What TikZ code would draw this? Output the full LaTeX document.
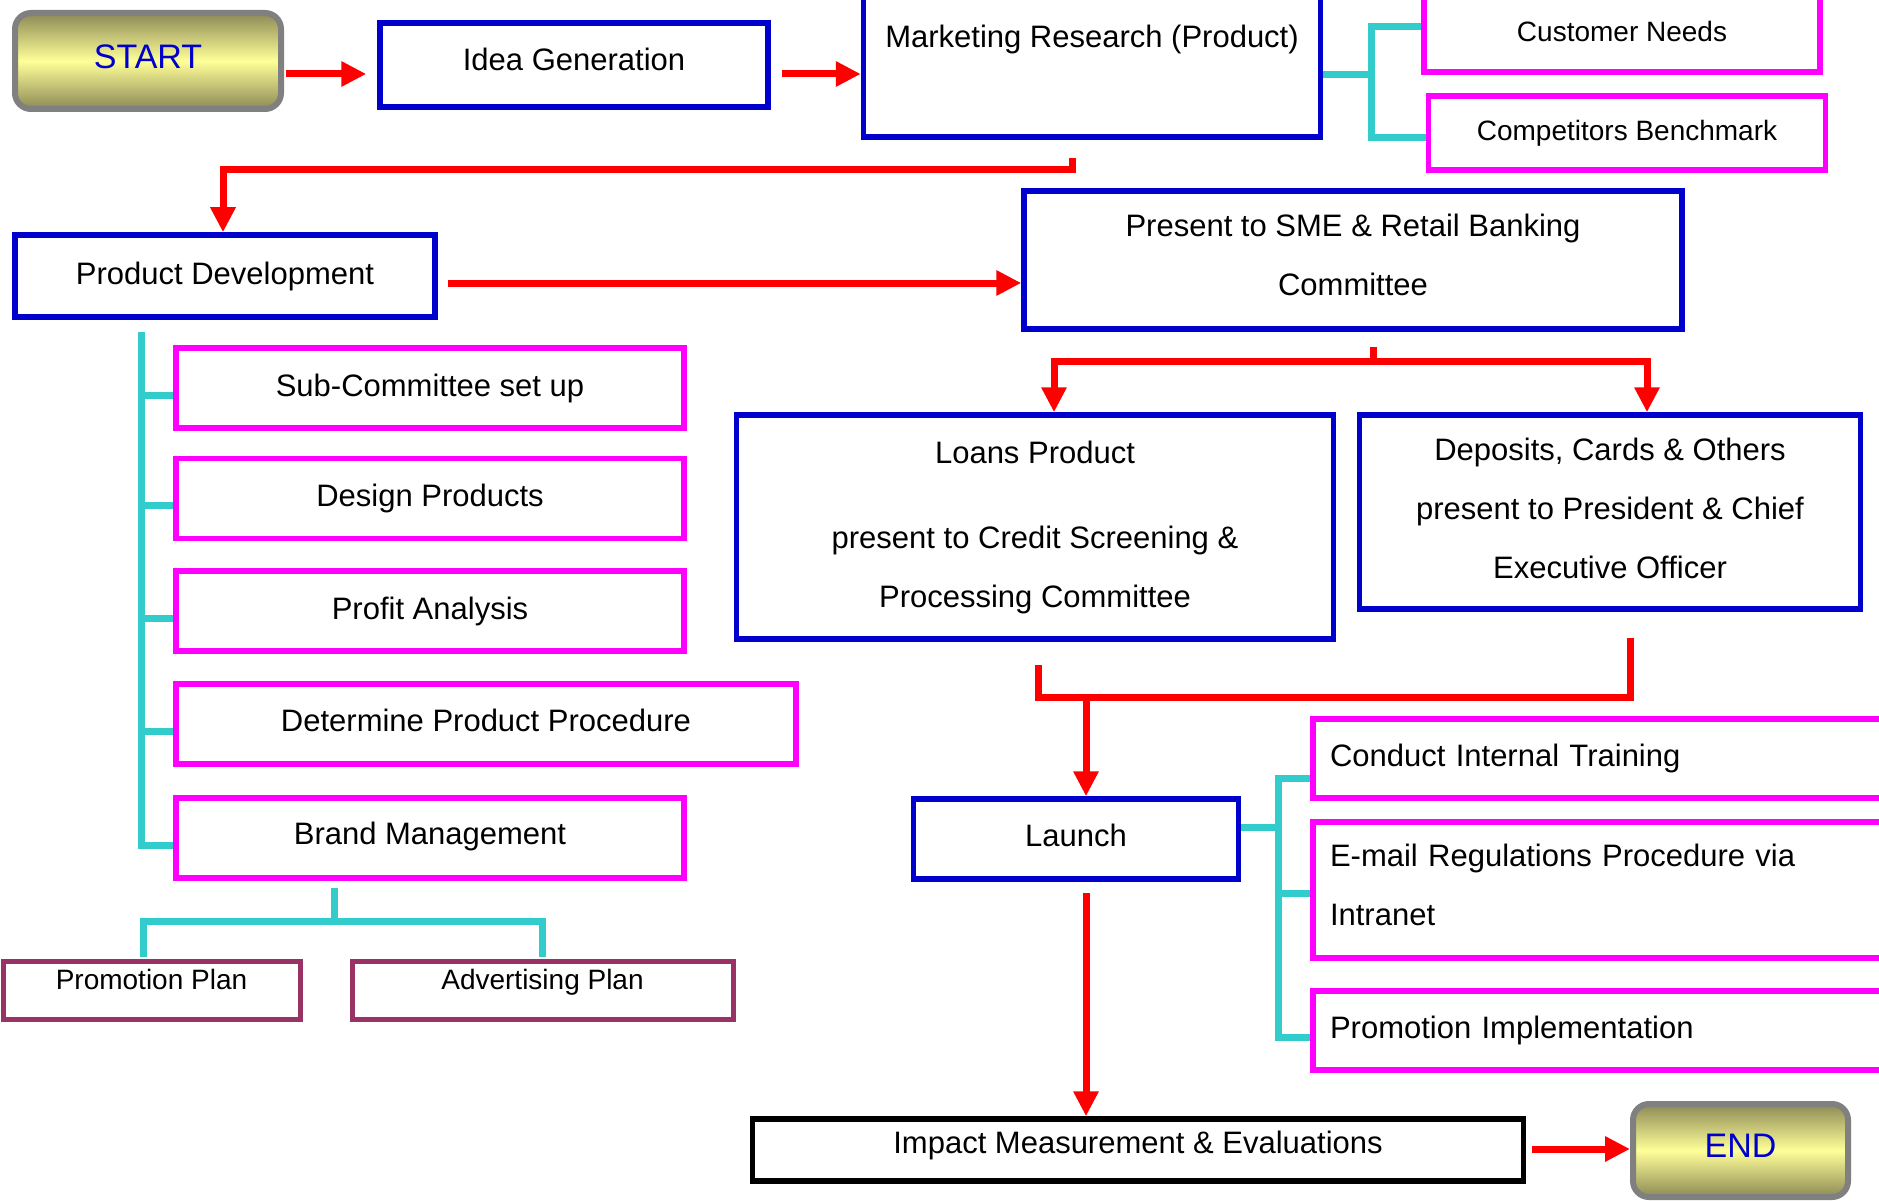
\documentclass[tikz,border=0pt]{standalone}
\usepackage{fontspec}
\setmainfont{Liberation Sans}
\usetikzlibrary{arrows.meta,calc}
\definecolor{bx}{HTML}{0000CC}
\definecolor{mg}{HTML}{FF00FF}
\definecolor{cy}{HTML}{33CCCC}
\definecolor{rd}{HTML}{FF0000}
\definecolor{pl}{HTML}{993366}
\definecolor{gr}{HTML}{808080}
\definecolor{olv}{HTML}{8C8A55}
\definecolor{ylw}{HTML}{FFFF99}
\tikzset{
  box/.style={draw, line width=5.5pt, fill=white, inner sep=0pt, align=center,
    font=\fontsize{31}{59}\selectfont},
  bluebox/.style={box, draw=bx},
  pinkbox/.style={box, draw=mg},
  blackbox/.style={box, draw=black},
  plumbox/.style={box, draw=pl, line width=5pt, font=\fontsize{28}{34}\selectfont},
  leftbox/.style={pinkbox, align=left, inner xsep=17pt, text width=553pt},
  termbox/.style={draw=gr, line width=6pt, rounded corners=16pt,
    top color=olv, bottom color=olv, middle color=ylw, text=bx,
    font=\fontsize{34}{40}\selectfont},
  redline/.style={draw=rd, line width=7pt},
  redarrow/.style={redline, -{Triangle[length=25pt,width=24pt]}},
  cyanline/.style={draw=cy, line width=7pt},
}
\begin{document}
\begin{tikzpicture}[x=1pt,y=-1pt]
\useasboundingbox (0,0) rectangle (1879,1201);
\clip (0,0) rectangle (1879,1201);
\fill[white] (0,0) rectangle (1879,1201);

% top row
\node[termbox, minimum width=266pt, minimum height=96pt, text depth=8pt] (start) at (148,61) {START};
\node[bluebox, minimum width=388pt, minimum height=84pt, text depth=11pt] (idea) at (574,65) {Idea Generation};
\node[bluebox, minimum width=457pt, minimum height=140pt, text depth=62pt] (mr) at (1092,67) {Marketing Research (Product)};
\node[pinkbox, minimum width=396pt, minimum height=75pt, text depth=7pt, font=\fontsize{28}{34}\selectfont] (cn) at (1622,34.5) {Customer Needs};
\node[pinkbox, minimum width=397pt, minimum height=74pt, font=\fontsize{28}{34}\selectfont] (cb) at (1627,133) {Competitors Benchmark};

% second row
\node[bluebox, minimum width=420pt, minimum height=82pt] (pd) at (225,276) {Product Development};
\node[bluebox, minimum width=658pt, minimum height=138pt, text depth=10pt] (present) at (1353,260) {Present to SME \& Retail Banking\\Committee};

% development sub-items
\node[pinkbox, minimum width=508pt, minimum height=80pt] (sub1) at (430,388) {Sub-Committee set up};
\node[pinkbox, minimum width=508pt, minimum height=80pt] (sub2) at (430,498.5) {Design Products};
\node[pinkbox, minimum width=508pt, minimum height=80pt] (sub3) at (430,611) {Profit Analysis};
\node[pinkbox, minimum width=620pt, minimum height=80pt, text depth=8pt] (sub4) at (486,724) {Determine Product Procedure};
\node[pinkbox, minimum width=508pt, minimum height=80pt, text depth=9pt] (sub5) at (430,838) {Brand Management};
\node[plumbox, minimum width=297pt, minimum height=58pt, text depth=22pt] (pp) at (151.5,990) {Promotion Plan};
\node[plumbox, minimum width=381pt, minimum height=58pt, text depth=22pt] (ap) at (542.5,990) {Advertising Plan};

% committees
\node[bluebox, minimum width=597pt, minimum height=224pt] (loans) at (1035,527) {Loans Product\\[26pt]present to Credit Screening \&\\Processing Committee};
\node[bluebox, minimum width=501pt, minimum height=194pt, text depth=8pt] (deposits) at (1610,512) {Deposits, Cards \& Others\\present to President \& Chief\\Executive Officer};

% launch
\node[bluebox, minimum width=325pt, minimum height=80pt, text depth=8pt] (launch) at (1076,839) {Launch};
\node[leftbox, minimum height=79pt] (ct) at (1606.5,758.5) {Conduct Internal Training};
\node[leftbox, minimum height=136pt, text depth=70pt] (em) at (1606.5,890) {E-mail Regulations Procedure via\\Intranet};
\node[leftbox, minimum height=79pt] (pi) at (1606.5,1030.5) {Promotion Implementation};

% end
\node[blackbox, minimum width=771pt, minimum height=62pt, text depth=16pt] (impact) at (1138,1150) {Impact Measurement \& Evaluations};
\node[termbox, minimum width=215pt, minimum height=93pt, text depth=9pt] (endn) at (1740.5,1150.5) {END};

% red flow
\draw[redarrow] ($(start.east)+(2,13)$) -- ($(idea.west)+(-11,9)$);
\draw[redarrow] ($(idea.east)+(11,9)$) -- ($(mr.west)+(0,7)$);
\draw[redarrow] ($(mr.south)+(-20,18)$) -- ++(0,12) -| ($(pd.north)+(-2,0)$);
\draw[redarrow] ($(pd.east)+(10,7)$) -- ($(present.west)+(0,23)$);
\coordinate (split) at ($(present.south)+(20,30)$);
\draw[redline] ($(present.south)+(20,15)$) -- (split);
\draw[redarrow] (split) -| ($(loans.north)+(19,0)$);
\draw[redarrow] (split) -| ($(deposits.north)+(37,0)$);
\draw[redline] ($(loans.south)+(3,23)$) |- ($(deposits.south)+(20,86)$) -- ($(deposits.south)+(20,26)$);
\coordinate (merge) at ($(launch.north)+(10,-98)$);
\draw[redarrow] (merge) -- ($(launch.north)+(10,0)$);
\draw[redarrow] ($(launch.south)+(10,11)$) -- ($(impact.north)+(-52,0)$);
\draw[redarrow] ($(impact.east)+(6,-1)$) -- ($(endn.west)+(0,-1.5)$);

% cyan brackets
\draw[cyanline] ($(mr.east)+(0,8)$) -- ++(49,0);
\draw[cyanline] ($(cn.west)+(0,-7.5)$) -| ($(cb.west)+(-54,5)$) -- ($(cb.west)+(0,5)$);

\draw[cyanline] ($(pd.south)+(-84,12)$) |- ($(sub5.west)+(0,7)$);
\foreach \n in {sub1,sub2,sub3,sub4}
  \draw[cyanline] ($(\n.west)+(-35.5,7)$) -- ($(\n.west)+(0,7)$);

\draw[cyanline] ($(sub5.south)+(-96,7)$) -- ++(0,33);
\draw[cyanline] ($(pp.north)+(-8.5,-2)$) |- ($(ap.north)+(0,-37)$) -- ($(ap.north)+(0,-2)$);

\draw[cyanline] ($(launch.east)+(0,-12)$) -- ++(37,0);
\draw[cyanline] ($(ct.west)+(0,19.5)$) -| ($(pi.west)+(-32,6.5)$) -- ($(pi.west)+(0,6.5)$);
\draw[cyanline] ($(em.west)+(-35.5,3)$) -- ($(em.west)+(0,3)$);
\end{tikzpicture}
\end{document}
